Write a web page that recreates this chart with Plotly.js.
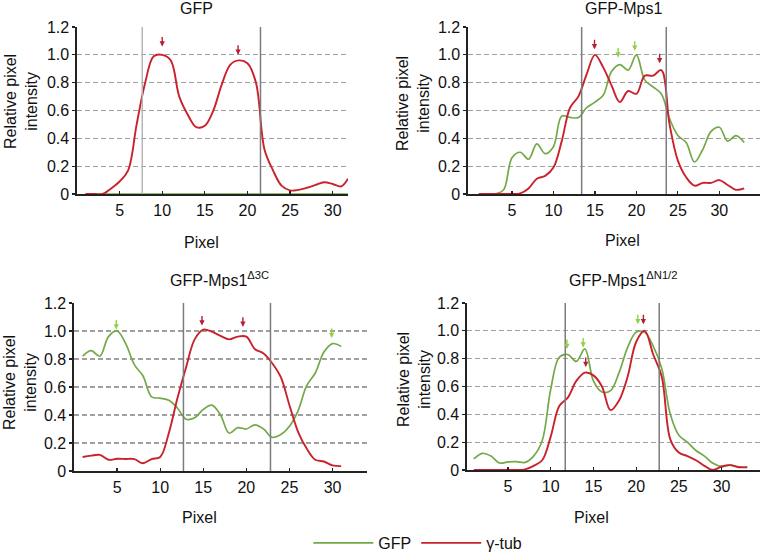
<!DOCTYPE html>
<html>
<head>
<meta charset="utf-8">
<script src="https://cdn.plot.ly/plotly-3.0.1.min.js"></script>
<style>html,body{margin:0;padding:0;background:#fff;}#chart{width:765px;height:560px;}</style>
</head>
<body>
<div id="chart"></div>
<script>
// ---------- data ----------
const panelTitles = ['GFP', 'GFP-Mps1', 'GFP-Mps1<sup>\u03943C</sup>', 'GFP-Mps1<sup>\u0394N1/2</sup>'];
const seriesNames = ['GFP', '\u03b3-tub'];
const xTickVals = [5, 10, 15, 20, 25, 30];
const yTickVals = [0, 0.2, 0.4, 0.6, 0.8, 1.0, 1.2];
const yTickText = ['0', '0.2', '0.4', '0.6', '0.8', '1.0', '1.2'];

// Panel 1: GFP
const p1Pixel = [1,2,3,4,5,6,7,8,9,10,11,12,13,14,15,16,17,18,19,20,21,22,23,24,25,26,27,28,29,30,31,31.8];
const p1GFP   = [0,0,0,0,0,0,0,0,0,0,0,0,0,0,0,0,0,0,0,0,0,0,0,0,0,0,0,0,0,0,0,0];
const p1Tub   = [0,0,0,0.04,0.09,0.17,0.50,0.80,0.99,1.0,0.96,0.70,0.57,0.48,0.49,0.60,0.79,0.93,0.96,0.94,0.80,0.32,0.17,0.06,0.026,0.03,0.045,0.065,0.084,0.072,0.055,0.11];
const p1Bounds = [7.66, 21.53];
const p1ArrowsX = [10, 18.9];
const p1ArrowsY = [1.06, 1.0];
const p1ArrowsS = [1, 1]; // 0 = GFP, 1 = γ-tub

// Panel 2: GFP-Mps1
const p2Pixel = [1,2,3,4,5,6,7,8,9,10,11,12,13,14,15,16,17,18,19,20,21,22,23,24,25,26,27,28,29,30,31,32,33];
const p2GFP   = [0,0,0,0.03,0.26,0.30,0.25,0.36,0.29,0.34,0.56,0.55,0.55,0.62,0.66,0.71,0.88,0.93,0.89,1.0,0.82,0.77,0.72,0.54,0.42,0.37,0.23,0.32,0.45,0.48,0.38,0.42,0.37];
const p2Tub   = [0,0,0,0,0,0.005,0.04,0.11,0.13,0.19,0.38,0.62,0.70,0.86,1.0,0.91,0.78,0.66,0.74,0.72,0.85,0.85,0.89,0.50,0.24,0.12,0.06,0.08,0.08,0.10,0.065,0.03,0.04];
const p2Bounds = [13.4, 23.6];
const p2ArrowsX = [14.95, 17.8, 19.8, 22.8];
const p2ArrowsY = [1.04, 0.98, 1.03, 0.94];
const p2ArrowsS = [1, 0, 0, 1];

// Panel 3: GFP-Mps1 Δ3C
const p3Pixel = [1,2,3,4,5,6,7,8,9,10,11,12,13,14,15,16,17,18,19,20,21,22,23,24,25,26,27,28,29,30,31];
const p3GFP   = [0.82,0.86,0.82,0.96,1.0,0.91,0.76,0.68,0.53,0.52,0.505,0.45,0.37,0.38,0.44,0.47,0.40,0.27,0.31,0.30,0.33,0.30,0.24,0.26,0.32,0.43,0.61,0.70,0.85,0.91,0.89];
const p3Tub   = [0.10,0.11,0.115,0.08,0.087,0.086,0.085,0.055,0.085,0.10,0.27,0.52,0.74,0.94,1.01,0.995,0.965,0.94,0.96,0.96,0.87,0.84,0.77,0.67,0.47,0.28,0.16,0.08,0.068,0.04,0.035];
const p3Bounds = [12.7, 22.8];
const p3ArrowsX = [4.9, 14.85, 19.6, 29.9];
const p3ArrowsY = [1.01, 1.04, 1.03, 0.95];
const p3ArrowsS = [0, 1, 1, 0];

// Panel 4: GFP-Mps1 ΔN1/2
const p4Pixel = [1,2,3,4,5,6,7,8,9,10,11,12,13,14,15,16,17,18,19,20,21,22,23,24,25,26,27,28,29,30,31,32,33];
const p4GFP   = [0.08,0.12,0.10,0.05,0.058,0.06,0.055,0.10,0.21,0.58,0.81,0.83,0.78,0.87,0.64,0.56,0.57,0.70,0.88,0.99,0.99,0.89,0.73,0.40,0.25,0.20,0.14,0.10,0.048,0.025,0.035,0.022,0.02];
const p4Tub   = [0,0,0,0,0,0,0.005,0.03,0.07,0.24,0.46,0.52,0.64,0.70,0.68,0.60,0.43,0.50,0.67,0.92,1.0,0.83,0.67,0.22,0.125,0.10,0.07,0.03,0.0,0.025,0.035,0.02,0.02];
const p4Bounds = [11.7, 22.7];
const p4ArrowsX = [11.9, 13.8, 14.1, 20.2, 20.85];
const p4ArrowsY = [0.87, 0.88, 0.74, 1.047, 1.047];
const p4ArrowsS = [0, 0, 1, 0, 1];

// ---------- style ----------
const FONT = 'Liberation Sans, Arial, Helvetica, sans-serif';
const GREEN = '#74a94a';
const RED = '#c9222d';
const ARROW_GREEN = '#8fd244';
const ARROW_RED = '#b21f33';

const panels = [
  {x: p1Pixel, g: p1GFP, r: p1Tub, b: p1Bounds, ax: p1ArrowsX, ay: p1ArrowsY, as: p1ArrowsS,
   xd: [77, 348], yd: [27, 194], range: [0, 31.8], title: [197, 9], pix: [201, 242], ytl: [21, 102]},
  {x: p2Pixel, g: p2GFP, r: p2Tub, b: p2Bounds, ax: p2ArrowsX, ay: p2ArrowsY, as: p2ArrowsS,
   xd: [468, 760], yd: [27, 194], range: [-0.3, 34.9], title: [623, 9], pix: [622, 240], ytl: [413, 104]},
  {x: p3Pixel, g: p3GFP, r: p3Tub, b: p3Bounds, ax: p3ArrowsX, ay: p3ArrowsY, as: p3ArrowsS,
   xd: [74, 367], yd: [303, 471], range: [0, 34], title: [219, 279], pix: [199, 517], ytl: [20, 383]},
  {x: p4Pixel, g: p4GFP, r: p4Tub, b: p4Bounds, ax: p4ArrowsX, ay: p4ArrowsY, as: p4ArrowsS,
   xd: [467, 760], yd: [303, 470], range: [0.2, 34.5], title: [623, 279], pix: [591, 517], ytl: [414, 380]}
];

const W = 765, H = 560;
const traces = [];
const layout = {
  width: W, height: H, autosize: false,
  margin: {l: 0, r: 0, t: 0, b: 0},
  paper_bgcolor: '#ffffff', plot_bgcolor: '#ffffff',
  font: {family: FONT, size: 16, color: '#111'},
  showlegend: true,
  legend: {orientation: 'h', x: 0.403, y: 0, xanchor: 'left', yanchor: 'bottom',
           font: {family: FONT, size: 16, color: '#111'}, itemwidth: 60, bgcolor: 'rgba(0,0,0,0)'},
  shapes: [], annotations: []
};

panels.forEach((p, i) => {
  const n = i + 1;
  const xa = 'x' + (n === 1 ? '' : n), ya = 'y' + (n === 1 ? '' : n);
  const xKey = 'xaxis' + (n === 1 ? '' : n), yKey = 'yaxis' + (n === 1 ? '' : n);
  traces.push({x: p.x, y: p.g, xaxis: xa, yaxis: ya, type: 'scatter', mode: 'lines', name: seriesNames[0],
               line: {color: GREEN, width: 1.7, shape: 'spline', smoothing: 1}, cliponaxis: false,
               showlegend: i === 0, legendgroup: 'g', hoverinfo: 'skip'});
  traces.push({x: p.x, y: p.r, xaxis: xa, yaxis: ya, type: 'scatter', mode: 'lines', name: seriesNames[1],
               line: {color: RED, width: 1.9, shape: 'spline', smoothing: 1}, cliponaxis: false,
               showlegend: i === 0, legendgroup: 'r', hoverinfo: 'skip'});
  layout[xKey] = {
    domain: [p.xd[0] / W, p.xd[1] / W], range: p.range, anchor: ya,
    tickmode: 'array', tickvals: xTickVals, ticks: 'inside', ticklen: 3, tickwidth: 1.2, tickcolor: '#222',
    showline: true, linecolor: '#222', linewidth: 1.6, showgrid: false, zeroline: false,
    tickfont: {family: FONT, size: 16, color: '#111'}, ticklabelstandoff: 1, fixedrange: true
  };
  layout[yKey] = {
    domain: [1 - p.yd[1] / H, 1 - p.yd[0] / H], range: [0, 1.2], anchor: xa,
    tickmode: 'array', tickvals: yTickVals, ticktext: yTickText, ticks: 'outside', ticklen: 3, tickwidth: 1.2, tickcolor: '#222',
    showline: true, linecolor: '#222', linewidth: 1.6, showgrid: true, gridcolor: '#a0a0a0', gridwidth: 1.3,
    griddash: '5px,3px', zeroline: false,
    tickfont: {family: FONT, size: 16, color: '#111'}, fixedrange: true
  };
  // boundary lines
  p.b.forEach((bx, k) => {
    layout.shapes.push({type: 'line', xref: xa, yref: ya, x0: bx, x1: bx, y0: 0, y1: 1.2,
      line: {color: (i === 0 && k === 0) ? '#b4b4b4' : '#7c7c7c', width: 1.5}, layer: 'above'});
  });
  // arrows
  p.ax.forEach((axv, k) => {
    layout.annotations.push({xref: xa, yref: ya, x: axv, y: p.ay[k], text: '', showarrow: true,
      ax: 0, ay: -11, arrowhead: 2, arrowsize: 0.75, arrowwidth: 1.4,
      arrowcolor: p.as[k] === 0 ? ARROW_GREEN : ARROW_RED});
  });
  // panel title
  layout.annotations.push({xref: 'paper', yref: 'paper', x: p.title[0] / W, y: 1 - p.title[1] / H,
    xanchor: 'center', yanchor: 'middle', text: panelTitles[i], showarrow: false,
    font: {family: FONT, size: 16, color: '#111'}});
  // x-axis title
  layout.annotations.push({xref: 'paper', yref: 'paper', x: p.pix[0] / W, y: 1 - p.pix[1] / H,
    xanchor: 'center', yanchor: 'middle', text: 'Pixel', showarrow: false,
    font: {family: FONT, size: 16, color: '#111'}});
  // y-axis title
  layout.annotations.push({xref: 'paper', yref: 'paper', x: p.ytl[0] / W, y: 1 - p.ytl[1] / H,
    xanchor: 'center', yanchor: 'middle', text: 'Relative pixel<br>intensity', textangle: -90, showarrow: false,
    font: {family: FONT, size: 16, color: '#111'}});
});

Plotly.newPlot('chart', traces, layout, {displayModeBar: false, staticPlot: true});
</script>
</body>
</html>
